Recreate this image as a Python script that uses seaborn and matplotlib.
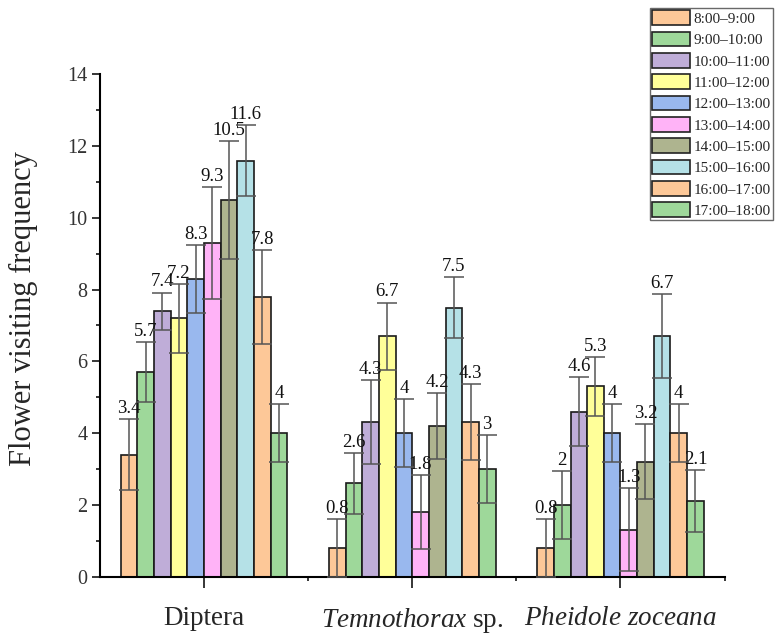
import matplotlib
matplotlib.use("Agg")
import matplotlib.pyplot as plt
import seaborn as sns
import pandas as pd
import numpy as np
from matplotlib.ticker import MultipleLocator, FixedLocator

categories = ["Diptera", "Temnothorax sp.", "Pheidole zoceana"]
cat_labels = ["Diptera", r"$\mathit{Temnothorax}$ sp.", r"$\mathit{Pheidole\ zoceana}$"]
periods = ["8:00–9:00", "9:00–10:00", "10:00–11:00", "11:00–12:00", "12:00–13:00",
           "13:00–14:00", "14:00–15:00", "15:00–16:00", "16:00–17:00", "17:00–18:00"]

diptera = [3.4, 5.7, 7.4, 7.2, 8.3, 9.3, 10.5, 11.6, 7.8, 4.0]
temnothorax = [0.8, 2.6, 4.3, 6.7, 4.0, 1.8, 4.2, 7.5, 4.3, 3.0]
pheidole = [0.8, 2.0, 4.6, 5.3, 4.0, 1.3, 3.2, 6.7, 4.0, 2.1]

diptera_err = [0.98, 0.83, 0.52, 0.96, 0.95, 1.56, 1.64, 0.98, 1.31, 0.82]
temnothorax_err = [0.81, 0.85, 1.17, 0.94, 0.95, 1.03, 0.91, 0.84, 1.06, 0.95]
pheidole_err = [0.81, 0.94, 0.96, 0.82, 0.82, 1.16, 1.04, 1.17, 0.82, 0.87]

colors = ["#FDC898", "#9ED89A", "#BFADD8", "#FFFF99", "#99B8EE",
          "#FFB3F7", "#AEB48F", "#B5E1E7", "#FDC898", "#9ED89A"]

values = [diptera, temnothorax, pheidole]
errors = [diptera_err, temnothorax_err, pheidole_err]

rows = []
for ci, cat in enumerate(categories):
    for pi, per in enumerate(periods):
        rows.append({"category": cat, "period": per,
                     "value": values[ci][pi], "err": errors[ci][pi]})
df = pd.DataFrame(rows)

sns.set_style("white")
plt.rcParams["font.family"] = ["Liberation Serif", "DejaVu Serif"]
plt.rcParams["mathtext.fontset"] = "custom"
plt.rcParams["mathtext.rm"] = "Liberation Serif"
plt.rcParams["mathtext.it"] = "Liberation Serif:italic"

fig = plt.figure(figsize=(7.8, 6.42), dpi=100)
ax = fig.add_axes([0.128, 0.102, 0.801, 0.782])

sns.barplot(data=df, x="category", y="value", hue="period", order=categories,
            hue_order=periods, palette=colors, saturation=1, errorbar=None, width=0.8,
            edgecolor="#1a1a1a", linewidth=1.2, ax=ax, legend=True)

bar_conts = list(ax.containers)
for pi, cont in enumerate(bar_conts):
    xs, ys, es = [], [], []
    for ci, bar in enumerate(cont.patches):
        xc = bar.get_x() + bar.get_width() / 2
        v = values[ci][pi]
        e = errors[ci][pi]
        xs.append(xc); ys.append(v); es.append(e)
        lab = f"{v:g}"
        ax.annotate(lab, (xc, v + e), xytext=(0, 1.5), textcoords="offset points",
                    ha="center", va="bottom", fontsize=13.5, color="#111111")
    ax.errorbar(xs, ys, yerr=es, fmt="none", ecolor="#555555", elinewidth=1.1,
                capsize=7, capthick=1.1, zorder=5)

ax.set_ylim(0, 14)
ax.set_xlim(-0.5, 2.5)
ax.yaxis.set_major_locator(MultipleLocator(2))
ax.yaxis.set_minor_locator(MultipleLocator(1))
ax.xaxis.set_major_locator(FixedLocator([0, 1, 2]))
ax.xaxis.set_minor_locator(FixedLocator([0.5, 1.5, 2.5]))
ax.set_xticklabels(cat_labels, fontsize=19.5)
ax.tick_params(axis="x", which="major", direction="out", length=8, width=1.3, pad=13, bottom=True)
ax.tick_params(axis="x", which="minor", direction="out", length=3, width=1.3, bottom=True)
ax.tick_params(axis="y", which="major", direction="out", length=6, width=1.3, labelsize=14.5, left=True, pad=3, labelcolor="#333333")
ax.tick_params(axis="y", which="minor", direction="out", length=3, width=1.3, left=True)

for s in ["top", "right"]:
    ax.spines[s].set_visible(False)
for s in ["left", "bottom"]:
    ax.spines[s].set_color("black")
    ax.spines[s].set_linewidth(1.5)

ax.set_xlabel("")
ax.set_ylabel("Flower visiting frequency", fontsize=22)
ax.yaxis.set_label_coords(-0.099, 0.534)

handles, labels = ax.get_legend_handles_labels()
ax.get_legend().remove()
leg = fig.legend(handles, labels, loc="upper right", bbox_to_anchor=(0.991, 0.9875),
                 fontsize=11, frameon=True, fancybox=False, edgecolor="#444444",
                 handlelength=2.45, handleheight=1.1, labelspacing=0.38,
                 handletextpad=0.25, borderpad=0.15, borderaxespad=0)
leg.get_frame().set_linewidth(1.0)
for h in leg.legend_handles:
    h.set_edgecolor("#222222")
    h.set_linewidth(1.2)

fig.savefig("out.png", dpi=100)
